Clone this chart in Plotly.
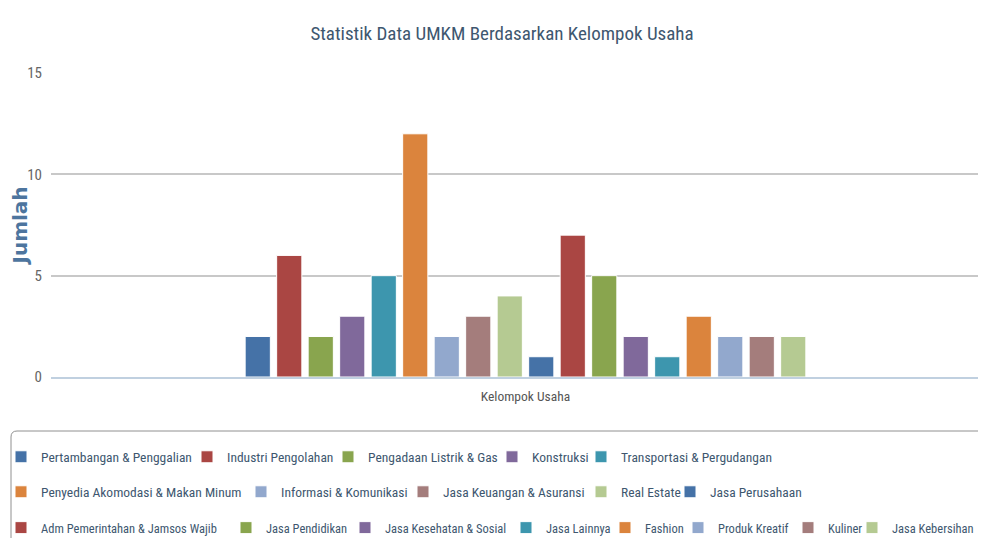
import plotly.graph_objects as go

categories = ["Kelompok Usaha"]
series_names = [
    "Pertambangan & Penggalian", "Industri Pengolahan", "Pengadaan Listrik & Gas",
    "Konstruksi", "Transportasi & Pergudangan", "Penyedia Akomodasi & Makan Minum",
    "Informasi & Komunikasi", "Jasa Keuangan & Asuransi", "Real Estate",
    "Jasa Perusahaan", "Adm Pemerintahan & Jamsos Wajib", "Jasa Pendidikan",
    "Jasa Kesehatan & Sosial", "Jasa Lainnya", "Fashion", "Produk Kreatif",
    "Kuliner", "Jasa Kebersihan",
]
series_values = [2, 6, 2, 3, 5, 12, 2, 3, 4, 1, 7, 5, 2, 1, 3, 2, 2, 2]
palette = ["#4572A7", "#AA4643", "#89A54E", "#80699B", "#3D96AE",
           "#DB843D", "#92A8CD", "#A47D7C", "#B5CA92"]
y_ticks = [0, 5, 10, 15]

# legend layout in page pixels: left edge of each entry's swatch, row centre, font size
legend_swatch_x = [17, 203, 344, 508, 597,
                   17, 257, 419, 597, 686,
                   17, 242, 361, 522, 621, 694, 804, 868]
legend_row_y = [457] * 5 + [492] * 5 + [528] * 8
legend_font = [13.5] * 10 + [12.5] * 8

OFF = 8                       # page body margin in front of the figure
W, H = 978 - OFF, 538 - OFF
ML, MT = 51 - OFF, 73 - OFF
PB = 377 - OFF                # plot bottom (figure px)
MB = H - PB
PW, PH = W - ML, PB - MT
FONT = "Liberation Sans Narrow, Roboto Condensed, Arial Narrow, sans-serif"


def paper_x(px):
    return (px - OFF - ML) / PW


def paper_y(py):
    return (PB - (py - OFF)) / PH


fig = go.Figure()
for i, (name, val) in enumerate(zip(series_names, series_values)):
    lg = "legend" if i == 0 else f"legend{i + 1}"
    fig.add_trace(go.Bar(
        x=categories, y=[val], name=name, legend=lg,
        marker=dict(color=palette[i % len(palette)], line=dict(color="white", width=1)),
    ))

legends = {}
for i in range(len(series_names)):
    key = "legend" if i == 0 else f"legend{i + 1}"
    legends[key] = dict(
        xref="paper", yref="paper",
        x=paper_x(legend_swatch_x[i] - 16), xanchor="left",
        y=paper_y(legend_row_y[i]), yanchor="middle",
        orientation="h", borderwidth=0, bgcolor="rgba(0,0,0,0)",
        font=dict(family=FONT, size=legend_font[i], color="#3E576F"),
        itemwidth=30,
    )

# category band ~945 px wide starting at page px 53
px_per_unit = 945.0
r0 = -0.5 - (53 - OFF - ML) / px_per_unit
r1 = r0 + PW / px_per_unit

# legend frame with rounded top-left corner (page px)
bx0, by0, bx1, by1, rad = 11, 431, 1000, 580, 6
frame = (f"M{paper_x(bx0 + rad)},{paper_y(by0)} L{paper_x(bx1)},{paper_y(by0)} "
         f"L{paper_x(bx1)},{paper_y(by1)} L{paper_x(bx0)},{paper_y(by1)} "
         f"L{paper_x(bx0)},{paper_y(by0 + rad)} "
         f"Q{paper_x(bx0)},{paper_y(by0)} {paper_x(bx0 + rad)},{paper_y(by0)} Z")

fig.update_layout(
    width=W, height=H,
    margin=dict(l=ML, r=0, t=MT, b=MB, autoexpand=False),
    paper_bgcolor="white", plot_bgcolor="white",
    barmode="group", bargap=0.4, bargroupgap=0.2,
    font=dict(family=FONT, color="#666666", size=13),
    title=dict(text="Statistik Data UMKM Berdasarkan Kelompok Usaha",
               x=(502 - OFF) / W, xanchor="center", y=1 - (33 - OFF) / H, yanchor="middle",
               font=dict(family=FONT, size=19, color="#3E576F")),
    xaxis=dict(range=[r0, r1], showline=True, linecolor="#C0D0E0", linewidth=2,
               ticks="", showticklabels=True, ticklabelstandoff=6,
               tickfont=dict(family=FONT, size=13.5, color="#555555")),
    yaxis=dict(range=[0, 15], tickvals=y_ticks, showgrid=True,
               gridcolor="#C8C8C8", gridwidth=2, zeroline=False,
               ticks="", ticklabelstandoff=8,
               tickfont=dict(family=FONT, size=15, color="#666666"),
               title=dict(text="<b>Jumlah</b>", standoff=6,
                          font=dict(family="DejaVu Sans", size=20, color="#4D759E"))),
    shapes=[dict(type="path", xref="paper", yref="paper", path=frame,
                 line=dict(color="#909090", width=1), fillcolor="rgba(0,0,0,0)",
                 layer="below")],
    showlegend=True,
    **legends,
)

fig.write_html("out.html")
